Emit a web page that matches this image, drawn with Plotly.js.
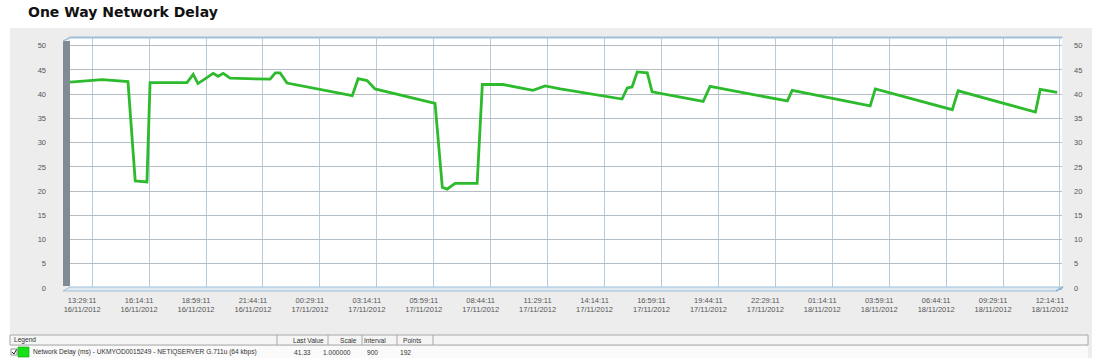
<!DOCTYPE html>
<html>
<head>
<meta charset="utf-8">
<script src="https://cdn.plot.ly/plotly-3.0.1.min.js"></script>
<style>
html,body{margin:0;padding:0;background:#ffffff;}
#chart{width:1101px;height:358px;}
</style>
</head>
<body>
<div id="chart"></div>
<script>
// ---- data ----
var sampleTimes = ['2012-11-16 12:25','2012-11-16 13:58','2012-11-16 15:13','2012-11-16 15:34','2012-11-16 16:08','2012-11-16 16:17','2012-11-16 18:04','2012-11-16 18:22','2012-11-16 18:36','2012-11-16 19:20','2012-11-16 19:34','2012-11-16 19:49','2012-11-16 20:09','2012-11-16 22:05','2012-11-16 22:20','2012-11-16 22:34','2012-11-16 22:54','2012-11-17 02:03','2012-11-17 02:20','2012-11-17 02:46','2012-11-17 03:09','2012-11-17 06:03','2012-11-17 06:24','2012-11-17 06:38','2012-11-17 07:01','2012-11-17 08:05','2012-11-17 08:20','2012-11-17 09:20','2012-11-17 10:47','2012-11-17 11:22','2012-11-17 12:06','2012-11-17 15:05','2012-11-17 15:20','2012-11-17 15:34','2012-11-17 15:49','2012-11-17 16:18','2012-11-17 16:32','2012-11-17 19:00','2012-11-17 19:20','2012-11-17 23:04','2012-11-17 23:18','2012-11-18 03:04','2012-11-18 03:19','2012-11-18 07:02','2012-11-18 07:19','2012-11-18 11:03','2012-11-18 11:17','2012-11-18 12:06'];
var delayMs = [42.5,43.0,42.6,22.1,21.9,42.4,42.4,44.1,42.2,44.3,43.7,44.3,43.3,43.1,44.4,44.4,42.3,39.7,43.2,42.8,41.1,38.1,20.8,20.4,21.6,21.6,42.0,42.0,40.8,41.7,41.1,39.0,41.3,41.5,44.6,44.4,40.5,38.5,41.6,38.6,40.8,37.6,41.1,36.8,40.7,36.3,41.0,40.4];

var tickTimes = ['2012-11-16 13:29:11','2012-11-16 16:14:11','2012-11-16 18:59:11','2012-11-16 21:44:11','2012-11-17 00:29:11','2012-11-17 03:14:11','2012-11-17 05:59:11','2012-11-17 08:44:11','2012-11-17 11:29:11','2012-11-17 14:14:11','2012-11-17 16:59:11','2012-11-17 19:44:11','2012-11-17 22:29:11','2012-11-18 01:14:11','2012-11-18 03:59:11','2012-11-18 06:44:11','2012-11-18 09:29:11','2012-11-18 12:14:11'];
var tickClock = ['13:29:11','16:14:11','18:59:11','21:44:11','00:29:11','03:14:11','05:59:11','08:44:11','11:29:11','14:14:11','16:59:11','19:44:11','22:29:11','01:14:11','03:59:11','06:44:11','09:29:11','12:14:11'];
var tickDate = ['16/11/2012','16/11/2012','16/11/2012','16/11/2012','17/11/2012','17/11/2012','17/11/2012','17/11/2012','17/11/2012','17/11/2012','17/11/2012','17/11/2012','17/11/2012','18/11/2012','18/11/2012','18/11/2012','18/11/2012','18/11/2012'];
var yTicks = [0,5,10,15,20,25,30,35,40,45,50];

var chartTitle = 'One Way Network Delay';
var seriesName = 'Network Delay (ms) - UKMYOD0015249 - NETIQSERVER G.711u (64 kbps)';
var tableHeaders = ['Last Value','Scale','Interval','Points'];
var tableValues = ['41.33','1.000000','900','192'];

// ---- layout helpers (pixel -> paper) ----
var L = 70, R = 1062, T = 38, B = 288;
function X(px){ return (px - L) / (R - L); }
function Y(py){ return (B - py) / (B - T); }
function P(px, py){ return X(px) + ',' + Y(py); }

var tickText = tickClock.map(function(c, i){ return c + '<br>' + tickDate[i]; });

var trace = {
  x: sampleTimes, y: delayMs, type: 'scatter', mode: 'lines',
  line: {color: '#2dbb2d', width: 2.8, shape: 'linear'},
  name: seriesName, showlegend: false, hoverinfo: 'x+y'
};
var trace2 = { x: [sampleTimes[0]], y: [null], yaxis: 'y2', type: 'scatter', mode: 'lines', showlegend: false, hoverinfo: 'skip' };

var labelFont = {family: 'Liberation Sans, Arial, sans-serif', size: 7.5, color: '#555555'};
var tableFont = {family: 'Liberation Sans, Arial, sans-serif', size: 6.6, color: '#333333'};

var shapes = [
  // grey panel
  {type:'rect', xref:'paper', yref:'paper', layer:'below', x0:X(10), x1:X(1092), y0:Y(358), y1:Y(28), fillcolor:'#ededed', line:{width:0}},
  // white plotting area (back wall)
  {type:'rect', xref:'paper', yref:'paper', layer:'below', x0:0, x1:1, y0:0, y1:1, fillcolor:'#ffffff', line:{width:0}},
  // left 3D wall
  {type:'rect', xref:'paper', yref:'paper', layer:'below', x0:X(63), x1:X(70), y0:Y(286), y1:Y(41), fillcolor:'#7f8b95', line:{width:0}},
  {type:'path', xref:'paper', yref:'paper', layer:'below', path:'M '+P(63,41)+' L '+P(70,37)+' L '+P(1062,37)+' L '+P(1062,38)+' L '+P(70,38)+' Z', fillcolor:'#c9dcea', line:{color:'#9fc0d8', width:1}},
  // floor
  {type:'path', xref:'paper', yref:'paper', layer:'above', path:'M '+P(63,291)+' L '+P(1056,291)+' L '+P(1063,287)+' L '+P(70,287)+' Z', fillcolor:'#dfe9f1', line:{color:'#9fc0d8', width:1}},
  // right wall edge
  {type:'line', xref:'paper', yref:'paper', layer:'above', x0:X(1056), x1:X(1063), y0:Y(291), y1:Y(287), line:{color:'#8fb3cc', width:1.5}},
  // table header row
  {type:'rect', xref:'paper', yref:'paper', layer:'below', x0:X(10), x1:X(1088), y0:Y(345), y1:Y(335), fillcolor:'#f5f5f5', line:{color:'#a8a8a8', width:1}},
  // table data row
  {type:'rect', xref:'paper', yref:'paper', layer:'below', x0:X(10), x1:X(1088), y0:Y(359), y1:Y(346), fillcolor:'#fafafa', line:{width:0}},
  // checkbox
  {type:'rect', xref:'paper', yref:'paper', layer:'above', x0:X(11), x1:X(17), y0:Y(355), y1:Y(349), fillcolor:'#ffffff', line:{color:'#777777', width:0.8}},
  {type:'path', xref:'paper', yref:'paper', layer:'above', path:'M '+P(12,352)+' L '+P(14,354)+' L '+P(16.5,349.5), line:{color:'#222222', width:1}},
  // green swatch
  {type:'rect', xref:'paper', yref:'paper', layer:'above', x0:X(18), x1:X(29), y0:Y(357), y1:Y(347), fillcolor:'#16e016', line:{color:'#0fa00f', width:0.6}}
];
// header cell dividers
[277, 328, 362, 397, 433].forEach(function(px){
  shapes.push({type:'line', xref:'paper', yref:'paper', layer:'above', x0:X(px), x1:X(px), y0:Y(345), y1:Y(335), line:{color:'#a8a8a8', width:1}});
});

var annotations = [
  {text:'<b>'+chartTitle+'</b>', xref:'paper', yref:'paper', x:X(26), y:Y(12), xanchor:'left', yanchor:'middle', showarrow:false,
   font:{family:'DejaVu Sans, Verdana, sans-serif', size:14, color:'#111111'}},
  {text:'Legend', xref:'paper', yref:'paper', x:X(12), y:Y(340), xanchor:'left', yanchor:'middle', showarrow:false, font:tableFont},
  {text:seriesName, xref:'paper', yref:'paper', x:X(31), y:Y(352), xanchor:'left', yanchor:'middle', showarrow:false, font:tableFont}
];
var headerRight = [326, 359, 388, 424];
var valueCenter = [302, 337, 372, 405];
tableHeaders.forEach(function(h, i){
  annotations.push({text:h, xref:'paper', yref:'paper', x:X(headerRight[i]), y:Y(340), xanchor:'right', yanchor:'middle', showarrow:false, font:tableFont});
});
tableValues.forEach(function(v, i){
  annotations.push({text:v, xref:'paper', yref:'paper', x:X(valueCenter[i]), y:Y(352), xanchor:'center', yanchor:'middle', showarrow:false, font:tableFont});
});

var layout = {
  width: 1101, height: 358,
  margin: {l: L, r: 1101 - R, t: T, b: 358 - B, pad: 0},
  paper_bgcolor: '#ffffff', plot_bgcolor: '#ffffff',
  showlegend: false,
  xaxis: {
    type: 'date', range: ['2012-11-16 12:25', '2012-11-18 12:20'],
    tickmode: 'array', tickvals: tickTimes, ticktext: tickText,
    showgrid: true, gridcolor: '#b9cad8', gridwidth: 1,
    showline: true, linecolor: '#9fc0d8', linewidth: 1.5, mirror: true,
    ticks: '', tickfont: labelFont, ticklabelstandoff: 4, ticklabelshift: -10,
    zeroline: false, fixedrange: true
  },
  yaxis: {
    range: [0, 51.6], tickmode: 'array', tickvals: yTicks,
    showgrid: true, gridcolor: '#b4bcc4', gridwidth: 1,
    showline: false, ticks: '', tickfont: labelFont, ticklabelstandoff: 23,
    zeroline: false, fixedrange: true
  },
  yaxis2: {
    range: [0, 51.6], overlaying: 'y', side: 'right', tickmode: 'array', tickvals: yTicks,
    showgrid: false, showline: false, ticks: '', tickfont: labelFont, ticklabelstandoff: 11,
    zeroline: false, fixedrange: true
  },
  shapes: shapes,
  annotations: annotations
};

Plotly.newPlot('chart', [trace, trace2], layout, {displayModeBar: false, staticPlot: true});
</script>
</body>
</html>
